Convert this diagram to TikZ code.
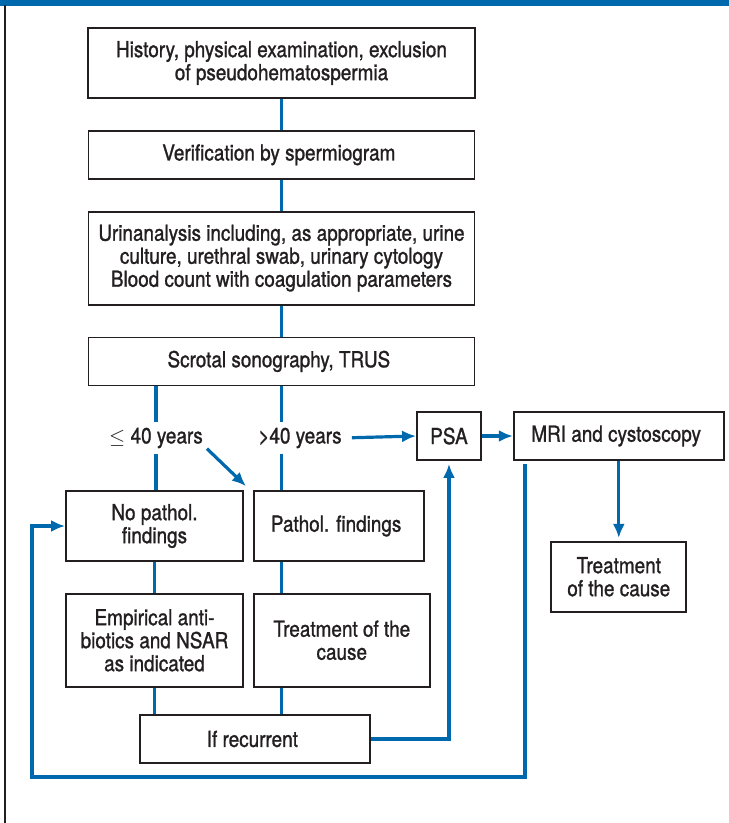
\documentclass[tikz,border=0pt]{standalone}
\usepackage{fontspec}
\setmainfont{TeX Gyre Heros}[FakeStretch=0.86, FakeBold=1.2]
\usetikzlibrary{arrows.meta, positioning}
\definecolor{flowblue}{RGB}{0,104,172}
\definecolor{boxblack}{RGB}{35,31,32}

\begin{document}
\begin{tikzpicture}[
    x=1pt, y=-1pt,
    node distance=31pt,
    every node/.style={
        font=\fontsize{22}{23}\selectfont,
        align=center,
        text=boxblack,
        inner sep=0pt
    },
    box/.style={draw=boxblack, line width=1.8pt, minimum height=48pt},
    yearlabel/.style={minimum height=31pt},
    link/.style={draw=flowblue, line width=3.2pt},
    arrow/.style={link, -{Latex[length=14pt, width=12pt]}}
]
\useasboundingbox (0,0) rectangle (729,823);
\fill[flowblue] (0,0) rectangle (729,5.5);
\draw[boxblack, line width=1.6pt] (5,5) -- (5,823);

\node[box, minimum width=387pt, minimum height=70pt] (hist) at (281.5,63) {
    History, physical examination, exclusion\\
    of pseudohematospermia
};

\node[box, minimum width=386pt, below=of hist] (verif) {
    Verification by spermiogram
};

\node[box, minimum width=386pt, minimum height=93pt, below=of verif] (urin) {
    Urinanalysis including, as appropriate, urine\\
    culture, urethral swab, urinary cytology\\
    Blood count with coagulation parameters
};

\node[box, minimum width=386pt, below=of urin] (sono) {
    Scrotal sonography, TRUS
};

\node[yearlabel] (le40) at (156,438) {$\le$ 40 years};
\node[yearlabel] (gt40) at (300,438) {>40 years};

\node[box, minimum width=177pt, minimum height=70pt] (nopath) at (154.5,526) {
    No pathol.\\
    findings
};

\node[box, minimum width=170pt, minimum height=70pt, right=9pt of nopath] (path) {
    Pathol. findings
};

\node[box, minimum width=177pt, minimum height=93pt, below=of nopath] (empir) {
    Empirical anti-\\
    biotics and NSAR\\
    as indicated
};

\node[box, minimum width=176pt, minimum height=93pt, below=of path.south west, anchor=north west] (treat) {
    Treatment of the\\
    cause
};

\node[box, minimum width=230pt] (recur) at (255,739) {
    If recurrent
};

\node[box, minimum width=64pt] (psa) at (449,436) {PSA};

\node[box, minimum width=210pt, right=of psa] (mri) {
    MRI and cystoscopy
};

\node[box, minimum width=135pt, minimum height=70pt, below=80pt of mri] (cause) {
    Treatment\\
    of the cause
};

\coordinate (back) at (32,777);

\draw[link] (hist) -- (verif);
\draw[link] (verif) -- (urin);
\draw[link] (urin) -- (sono);
\draw[link] (sono.south -| le40) -- (le40);
\draw[link] (le40) -- (le40 |- nopath.north);
\draw[link] (sono.south) -- (sono.south |- gt40.north);
\draw[link] (sono.south |- gt40.south) -- (sono.south |- path.north);
\draw[arrow] ([xshift=4pt, yshift=5pt]le40.south east) -- ([xshift=-7pt, yshift=4pt]path.north west);
\draw[arrow, shorten <=10pt] (gt40.east) -- (psa.west);
\draw[arrow] (psa) -- (mri);
\draw[arrow, shorten >=3pt] (mri) -- (cause);
\draw[link] (nopath) -- (empir);
\draw[link] (sono.south |- path.south) -- (sono.south |- treat.north);
\draw[link] (empir.south) -- (empir.south |- recur.north);
\draw[link] (sono.south |- treat.south) -- (sono.south |- recur.north);
\draw[arrow, shorten >=3pt] (recur.east) -| (psa.south);
\draw[arrow] ([xshift=12pt, yshift=-3pt]mri.south west) |- (back) |- (nopath.west);

\end{tikzpicture}
\end{document}
